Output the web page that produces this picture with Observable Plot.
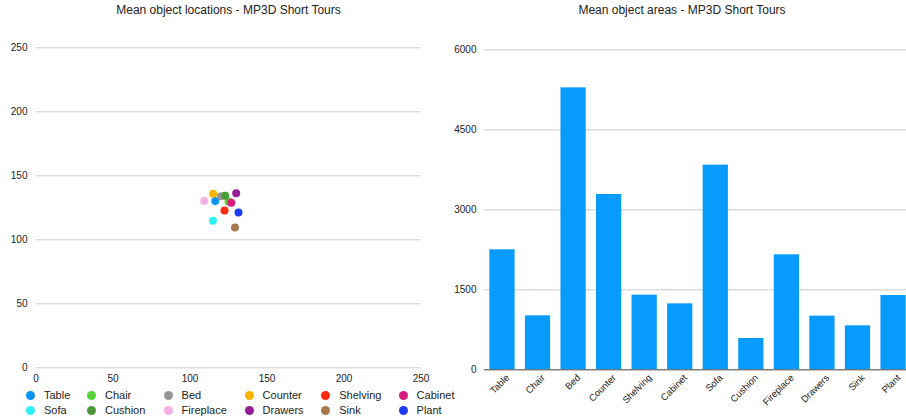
<!DOCTYPE html>
<html>
<head>
<meta charset="utf-8">
<script src="https://cdn.jsdelivr.net/npm/d3@7"></script>
<script src="https://cdn.jsdelivr.net/npm/@observablehq/plot@0.6"></script>
<style>
  html, body { margin: 0; padding: 0; background: #fff; }
  #wrap { position: relative; width: 906px; height: 420px; overflow: hidden; font-family: "Liberation Sans", Arial, sans-serif; color: #222; }
  .title { position: absolute; top: 3px; font-size: 12px; line-height: 14px; text-align: center; color: #222; }
  #left, #right { position: absolute; top: 0; }
  #left { left: 0; }
  #right { left: 440px; }
  #legend { position: absolute; left: 26px; top: 388px; display: grid; grid-template-columns: 61px 76.6px 81px 76.7px 77.3px auto; row-gap: 0; font-size: 11px; line-height: 15px; z-index: 5; }
  .item { display: flex; align-items: center; white-space: nowrap; }
  .sw { width: 9px; height: 9px; border-radius: 50%; margin-right: 9px; flex: none; }
</style>
</head>
<body>
<div id="wrap">
  <div id="left"></div>
  <div id="right"></div>
  <div class="title" style="left:0;width:457px">Mean object locations - MP3D Short Tours</div>
  <div class="title" style="left:470px;width:424px">Mean object areas - MP3D Short Tours</div>
  <div id="legend"></div>
</div>
<script>
const categories = ["Table","Chair","Bed","Counter","Shelving","Cabinet","Sofa","Cushion","Fireplace","Drawers","Sink","Plant"];
const colors = ["#0a93f5","#5ad23a","#959595","#f7b500","#fc2a0f","#d81b7e","#2ef2f8","#4a9a3a","#f7b0e6","#931e96","#a8784a","#1d3cf6"];
const meanX = [116.4,125.0,120.1,115.0,122.4,126.8,114.9,122.9,109.3,130.0,129.2,131.5];
const meanY = [130.3,129.9,134.1,135.9,122.9,128.9,114.8,134.4,130.3,136.4,109.6,121.3];
const meanArea = [2250,1012,5287,3287,1400,1237,3837,587,2156,1006,825,1393];
const locTicks = [0,50,100,150,200,250];
const areaTicks = [0,1500,3000,4500,6000];

const pts = categories.map((c, i) => ({category: c, x: meanX[i], y: meanY[i]}));
const bars = categories.map((c, i) => ({category: c, area: meanArea[i]}));

const baseStyle = "font: 10px 'Liberation Sans', Arial, sans-serif; color: #222; background: transparent; overflow: visible; max-width: none;";

const left = Plot.plot({
  width: 450, height: 390,
  marginLeft: 35.5, marginRight: 29.5, marginTop: 47.3, marginBottom: 22.7,
  style: baseStyle,
  x: {domain: [0, 250], ticks: locTicks, tickSize: 0, tickPadding: 7, label: null},
  y: {domain: [0, 250], ticks: locTicks, tickSize: 0, tickPadding: 8.5, label: null},
  color: {domain: categories, range: colors},
  marks: [
    Plot.ruleY(locTicks, {stroke: "#ccc"}),
    Plot.dot(pts, {x: "x", y: "y", fill: "category", r: 4})
  ]
});
document.getElementById("left").appendChild(left);

const right = Plot.plot({
  width: 471, height: 420,
  marginLeft: 44, marginRight: 0, marginTop: 49.3, marginBottom: 50.7,
  style: baseStyle,
  x: {domain: categories, paddingInner: 0.29, paddingOuter: 0.15, round: false, axis: null},
  y: {domain: [0, 6000], ticks: areaTicks, tickSize: 0, tickPadding: 8, tickFormat: d => String(d), label: null},
  marks: [
    Plot.ruleY(areaTicks, {stroke: "#ccc"}),
    Plot.barY(bars, {x: "category", y: "area", fill: "#079cfb"}),
    Plot.ruleY([0], {stroke: "#555"}),
    Plot.text(categories, {x: d => d, frameAnchor: "bottom", rotate: -45, textAnchor: "end", dx: 7.5, dy: 8.5, fill: "#222", fontSize: 9.5})
  ]
});
document.getElementById("right").appendChild(right);

const legend = document.getElementById("legend");
categories.forEach((c, i) => {
  const item = document.createElement("div");
  item.className = "item";
  const sw = document.createElement("span");
  sw.className = "sw";
  sw.style.background = colors[i];
  const t = document.createElement("span");
  t.textContent = c;
  item.appendChild(sw);
  item.appendChild(t);
  legend.appendChild(item);
});
</script>
</body>
</html>
